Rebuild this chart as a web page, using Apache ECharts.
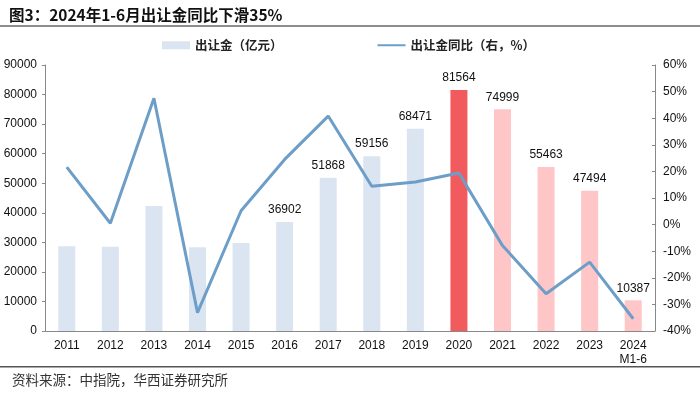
<!DOCTYPE html>
<html>
<head>
<meta charset="utf-8">
<script src="https://cdn.jsdelivr.net/npm/echarts@6/dist/echarts.min.js"></script>
<style>
html,body{margin:0;padding:0;background:#fff;}
#main{width:700px;height:396px;}
</style>
</head>
<body>
<div id="main"></div>
<script>
const categories = ['2011','2012','2013','2014','2015','2016','2017','2018','2019','2020','2021','2022','2023','2024\nM1-6'];
const landSales = [28700, 28500, 42300, 28300, 29800, 36902, 51868, 59156, 68471, 81564, 74999, 55463, 47494, 10387];
const yoyPct = [21.6, 0.5, 47.5, -33.1, 5.2, 24.5, 40.8, 14.4, 16.0, 19.4, -7.9, -26.0, -14.1, -35.4];
const labelShownFrom = 5;

const blueBar = '#dbe5f2', redBar = '#f25b5e', pinkBar = '#ffc6c8';
const barData = landSales.map((v, i) => ({
  value: v,
  itemStyle: { color: i < 9 ? blueBar : (i === 9 ? redBar : pinkBar) },
  label: { show: i >= labelShownFrom }
}));

const chart = echarts.init(document.getElementById('main'));
const font = 'Liberation Sans, Arial, sans-serif';
chart.setOption({
  animation: false,
  title: {
    text: '图3：2024年1-6月出让金同比下滑35%',
    left: 4, top: 2,
    textStyle: { fontSize: 15.5, fontWeight: 'bold', color: '#111', fontFamily: 'Noto Sans CJK SC' }
  },
  legend: {
    top: 34, left: 157, itemGap: 95,
    itemWidth: 28, itemHeight: 8,
    textStyle: { fontSize: 12.5, color: '#222', fontFamily: 'Noto Sans CJK SC', fontWeight: 'bold' },
    data: [
      { name: '出让金（亿元）', icon: 'rect' },
      { name: '出让金同比（右，%）', icon: 'path://M0,4 L28,4 L28,6 L0,6 Z' }
    ]
  },
  graphic: [
    { type: 'rect', shape: { x: 0, y: 25, width: 700, height: 2 }, style: { fill: '#8c8c8c' } },
    { type: 'rect', shape: { x: 0, y: 366, width: 700, height: 1.5 }, style: { fill: '#555' } },
    { type: 'text', left: 12, top: 373, style: { text: '资料来源：中指院，华西证券研究所', fontSize: 13.5, fill: '#333', fontFamily: 'Noto Sans CJK SC' } }
  ],
  grid: { left: 45, right: 45, top: 65, bottom: 65 },
  xAxis: {
    type: 'category', data: categories,
    axisLine: { lineStyle: { color: '#888', width: 1 } },
    axisTick: { inside: true, length: 4, lineStyle: { color: '#888' } },
    axisLabel: { color: '#111', fontSize: 12, fontFamily: font, margin: 8, lineHeight: 14, interval: 0 }
  },
  yAxis: [
    {
      type: 'value', min: 0, max: 90000, interval: 10000,
      axisLine: { show: true, lineStyle: { color: '#888' } },
      axisTick: { show: true, length: 3, lineStyle: { color: '#888' } },
      splitLine: { show: false },
      axisLabel: { color: '#111', fontSize: 12, fontFamily: font, margin: 8, formatter: v => String(v) }
    },
    {
      type: 'value', min: -40, max: 60, interval: 10, position: 'right',
      axisLine: { show: true, lineStyle: { color: '#888' } },
      axisTick: { show: true, inside: true, length: 3, lineStyle: { color: '#888' } },
      splitLine: { show: false },
      axisLabel: { color: '#111', fontSize: 12, fontFamily: font, margin: 8, formatter: '{value}%' }
    }
  ],
  series: [
    {
      name: '出让金（亿元）', type: 'bar', data: barData, barWidth: 17,
      itemStyle: { color: blueBar },
      label: { position: 'top', distance: 6, color: '#111', fontSize: 12, fontFamily: font }
    },
    {
      name: '出让金同比（右，%）', type: 'line', yAxisIndex: 1, data: yoyPct,
      symbol: 'none', color: '#6d9ec8',
      lineStyle: { color: '#6d9ec8', width: 3 }
    }
  ]
});
</script>
</body>
</html>
